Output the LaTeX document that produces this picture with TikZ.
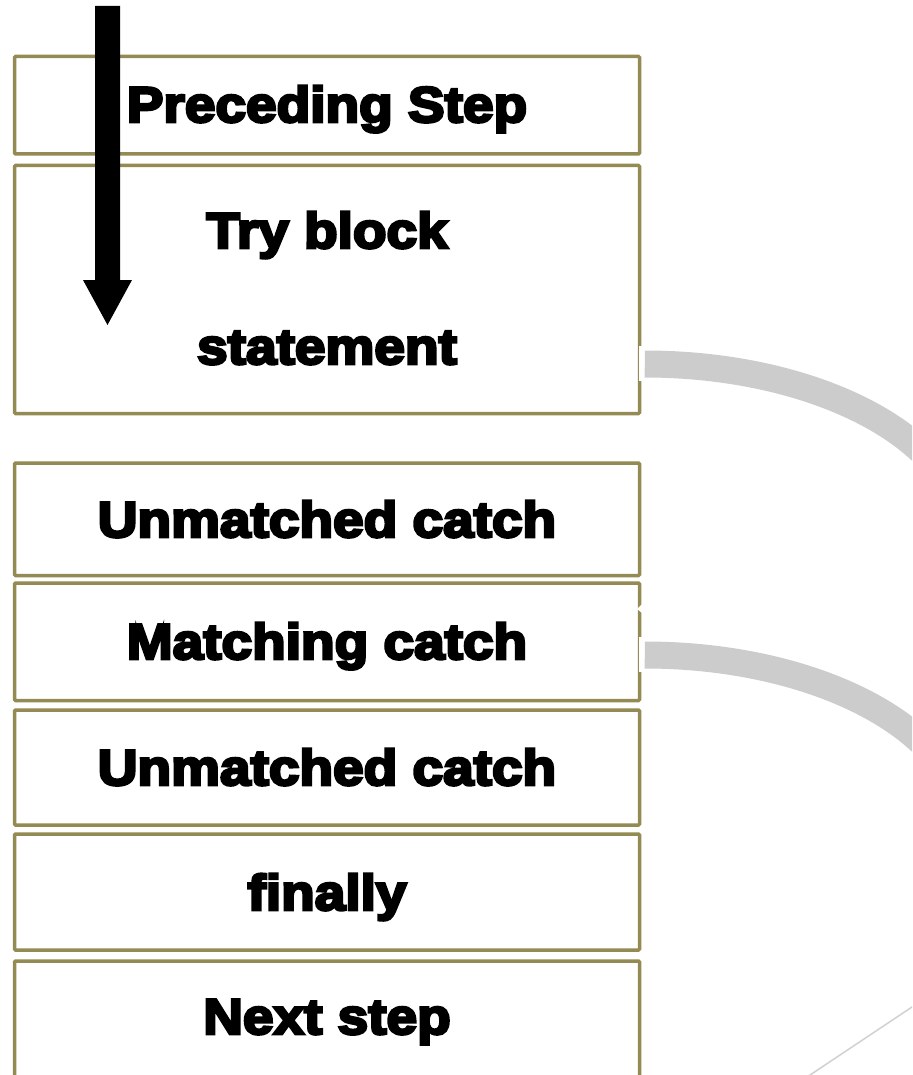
\documentclass[tikz,border=0pt]{standalone}
\usepackage{fontspec}
\newfontfamily\heavy{Liberation Sans Bold}[FakeBold=5.5, FakeStretch=1.1]
\definecolor{frame}{HTML}{948A54}
\definecolor{band}{HTML}{CCCCCC}
\definecolor{faintgray}{HTML}{D0D0D0}
\tikzset{
  stepbox/.style={draw=frame, line width=3.5pt, rounded corners=1pt, minimum width=625pt, inner sep=0pt},
  steptext/.style={anchor=base, inner sep=0pt, font=\heavy\fontsize{50}{60}\selectfont},
  flow/.style={draw=band, line width=27pt},
}
\begin{document}
\begin{tikzpicture}[x=1pt, y=-1pt]
\useasboundingbox (0,0) rectangle (912,1075);
\clip (0,0) rectangle (912,1075);
\fill[white] (0,0) rectangle (912,1075);

% stacked blocks of the try statement
\node[stepbox, minimum height=97.5pt]  (prec)  at (327,105.25) {};
\node[stepbox, minimum height=248pt]   (try)   at (327,289.5) {};
\node[stepbox, minimum height=112.5pt] (unmA)  at (327,519.25) {};
\node[stepbox, minimum height=117.5pt] (match) at (327,641.75) {};
\node[stepbox, minimum height=115pt]   (unmB)  at (327,767.5) {};
\node[stepbox, minimum height=116pt]   (fin)   at (327,892) {};
\node[stepbox, minimum height=139pt]   (next)  at (327,1030.5) {};

% labels
\node[steptext] (tPrec)  at (327,122) {Preceding Step};
\node[steptext] (tTry)   at (327,248) {Try block};
\node[steptext] (tStmt)  at (327,364) {statement};
\node[steptext] (tUnmA)  at (327,537) {Unmatched catch};
\node[steptext] (tMatch) at (327,659) {Matching catch};
\node[steptext] (tUnmB)  at (327,785) {Unmatched catch};
\node[steptext] (tFin)   at (327,910) {finally};
\node[steptext] (tNext)  at (327,1034) {Next step};

% curved flows leaving the statement and the matching catch
\coordinate (fromTry)   at ([xshift=3.5pt,yshift=-74.5pt]try.east);
\coordinate (fromMatch) at ([xshift=3.5pt,yshift=-13.25pt]match.east);
\fill[white] ([xshift=-5.5pt,yshift=18pt]fromTry) rectangle ([yshift=-17pt]fromTry);
\fill[white] ([xshift=-5.5pt,yshift=18pt]fromMatch) rectangle ([yshift=-17pt]fromMatch);
\draw[flow] (fromTry) arc[start angle=-90, end angle=-10, x radius=320, y radius=175];
\draw[flow] (fromMatch) arc[start angle=-90, end angle=-10, x radius=320, y radius=175];
\fill[white] (642,604) -- (637,609) -- (642,613) -- cycle;

% faint line at the lower right
\draw[draw=faintgray, line width=1.5pt] (795,1085) -- (925,998.3);

% execution direction arrow
\fill[black] (95,6) -- (120,6) -- (120,280) -- (132,280) -- (107.5,325)
  -- (83,280) -- (95,280) -- cycle;
\end{tikzpicture}
\end{document}
